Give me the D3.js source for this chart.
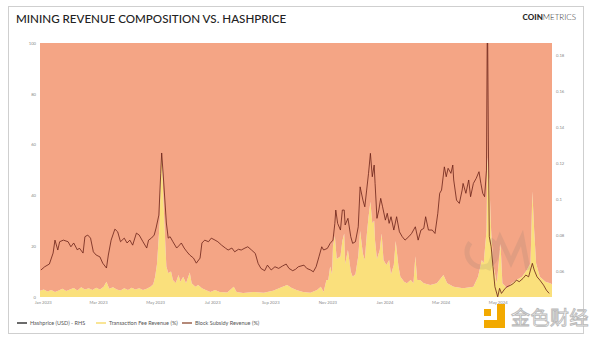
<!DOCTYPE html>
<html>
<head>
<meta charset="utf-8">
<script src="https://cdn.jsdelivr.net/npm/d3@7"></script>
<style>
  html, body { margin: 0; padding: 0; background: #fff; }
  svg { display: block; font-family: Lato, "Open Sans", sans-serif; }
</style>
</head>
<body>
<svg id="chart" width="600" height="339"></svg>
<script>
// ---- Transaction fee share of miner revenue (%), block subsidy is the remainder ----
const feeDates = [
  "2022-12-29","2023-01-02","2023-01-06","2023-01-10","2023-01-14","2023-01-18","2023-01-22","2023-01-26","2023-01-30",
  "2023-02-03","2023-02-07","2023-02-11","2023-02-15","2023-02-19","2023-02-23","2023-02-27",
  "2023-03-03","2023-03-07","2023-03-10","2023-03-13","2023-03-17","2023-03-21","2023-03-25","2023-03-29",
  "2023-04-02","2023-04-06","2023-04-10","2023-04-14","2023-04-18","2023-04-22","2023-04-26","2023-04-29",
  "2023-05-01","2023-05-03","2023-05-06","2023-05-07","2023-05-08","2023-05-10","2023-05-12","2023-05-13","2023-05-15",
  "2023-05-18","2023-05-20","2023-05-23","2023-05-26","2023-05-28","2023-05-31",
  "2023-06-03","2023-06-07","2023-06-09","2023-06-13","2023-06-16","2023-06-20","2023-06-24","2023-06-29",
  "2023-07-04","2023-07-09","2023-07-17","2023-07-24","2023-07-27",
  "2023-08-03","2023-08-14","2023-08-25",
  "2023-09-04","2023-09-11","2023-09-19","2023-09-24","2023-09-29",
  "2023-10-06","2023-10-14","2023-10-21","2023-10-25","2023-10-28","2023-10-31",
  "2023-11-02","2023-11-04","2023-11-06","2023-11-07","2023-11-09","2023-11-11","2023-11-15","2023-11-17","2023-11-19",
  "2023-11-20","2023-11-23","2023-11-26","2023-11-28",
  "2023-12-01","2023-12-04","2023-12-06","2023-12-09","2023-12-11","2023-12-13","2023-12-15","2023-12-17","2023-12-19",
  "2023-12-21","2023-12-22","2023-12-24","2023-12-27","2023-12-29","2023-12-31",
  "2024-01-03","2024-01-06","2024-01-08","2024-01-11","2024-01-13","2024-01-16","2024-01-18","2024-01-22","2024-01-25","2024-01-29",
  "2024-02-01","2024-02-03","2024-02-05","2024-02-08","2024-02-12","2024-02-19","2024-02-26",
  "2024-03-04","2024-03-08","2024-03-15","2024-03-25",
  "2024-04-05","2024-04-10","2024-04-14","2024-04-16","2024-04-19","2024-04-20","2024-04-22","2024-04-24","2024-04-26","2024-04-30",
  "2024-05-04","2024-05-06","2024-05-11","2024-05-16","2024-05-21","2024-05-27",
  "2024-06-01","2024-06-05","2024-06-06","2024-06-07","2024-06-09","2024-06-11","2024-06-15","2024-06-21","2024-06-26","2024-06-28"
];
const feePct = [
  2.5, 3.0, 2.2, 2.8, 2.0, 2.6, 3.2, 2.4, 3.0,
  3.5, 2.6, 3.8, 3.0, 3.4, 2.8, 3.6,
  3.0, 4.0, 6.0, 3.2, 3.8, 3.0, 2.6, 3.4,
  2.8, 3.6, 3.0, 3.4, 2.8, 3.2, 4.0, 5.0,
  8.0, 13, 30, 49, 57, 37, 20, 12, 9.4,
  10, 6.7, 5.5, 8.7, 6.0, 8.0,
  5.4, 9.6, 5.4, 4.0, 4.7, 3.4, 2.8, 2.0,
  2.8, 2.0, 1.8, 4.0, 2.0,
  1.6, 2.0, 1.7,
  2.5, 3.5, 4.7, 3.5, 2.8,
  2.0, 1.7, 2.8, 4.0, 2.0, 6.7,
  6.7, 12, 9, 20, 24, 15, 16, 22, 25,
  13, 18.5, 10, 8,
  9, 16, 26, 17, 14.6, 24, 31.6, 37.5, 29,
  30, 22, 15, 18.5, 25, 14.6,
  12.6, 14.6, 9, 12.6, 22, 12, 8, 6, 5.4, 6.7,
  5.4, 16, 6.7, 6.7, 5.4, 4.7, 5.4,
  8.7, 5.4, 4.0, 3.4,
  4.0, 8.0, 14.6, 13.3, 26, 55, 46, 26, 13.3, 5.4,
  21, 5.4, 3.4, 5.4, 6.7, 8.0,
  10.5, 13.3, 26, 41.5, 26, 13.3, 8, 6, 5.4, 5.0
];

// ---- Hashprice (USD per TH/s per day), right-hand axis ----
const hashDates = [
  "2022-12-30","2023-01-03","2023-01-08","2023-01-12","2023-01-14","2023-01-17","2023-01-19","2023-01-23","2023-01-28","2023-01-31",
  "2023-02-03","2023-02-07","2023-02-09","2023-02-13","2023-02-15","2023-02-18","2023-02-21","2023-02-24","2023-02-27",
  "2023-03-03","2023-03-06","2023-03-10","2023-03-12","2023-03-15","2023-03-19","2023-03-22","2023-03-25","2023-03-29",
  "2023-04-01","2023-04-04","2023-04-07","2023-04-11","2023-04-14","2023-04-18","2023-04-22","2023-04-24","2023-04-27","2023-04-30",
  "2023-05-02","2023-05-05","2023-05-07","2023-05-08","2023-05-10","2023-05-13","2023-05-15","2023-05-17","2023-05-20","2023-05-24","2023-05-27","2023-05-29",
  "2023-06-01","2023-06-04","2023-06-07","2023-06-11","2023-06-14","2023-06-18","2023-06-20","2023-06-23","2023-06-27","2023-06-30",
  "2023-07-04","2023-07-07","2023-07-11","2023-07-15","2023-07-18","2023-07-22","2023-07-25","2023-07-29",
  "2023-08-01","2023-08-05","2023-08-08","2023-08-12","2023-08-16","2023-08-19","2023-08-22","2023-08-26","2023-08-29",
  "2023-09-02","2023-09-06","2023-09-10","2023-09-14","2023-09-18","2023-09-21","2023-09-25","2023-09-28",
  "2023-10-01","2023-10-07","2023-10-10","2023-10-14","2023-10-17","2023-10-20","2023-10-23","2023-10-26","2023-10-28",
  "2023-11-01","2023-11-04","2023-11-07","2023-11-09","2023-11-10","2023-11-12","2023-11-15","2023-11-17","2023-11-19","2023-11-20","2023-11-23","2023-11-26","2023-11-28",
  "2023-12-01","2023-12-04","2023-12-06","2023-12-09","2023-12-11","2023-12-13","2023-12-15","2023-12-17","2023-12-19","2023-12-21","2023-12-22","2023-12-24","2023-12-26","2023-12-28","2023-12-30",
  "2024-01-02","2024-01-04","2024-01-06","2024-01-08","2024-01-11","2024-01-14","2024-01-17","2024-01-20","2024-01-23","2024-01-27","2024-01-30",
  "2024-02-03","2024-02-06","2024-02-09","2024-02-12","2024-02-14","2024-02-17","2024-02-21","2024-02-24","2024-02-27","2024-02-29",
  "2024-03-02","2024-03-05","2024-03-07","2024-03-09","2024-03-12","2024-03-14","2024-03-15","2024-03-18","2024-03-21","2024-03-24","2024-03-25","2024-03-28","2024-03-31",
  "2024-04-02","2024-04-05","2024-04-08","2024-04-11","2024-04-13","2024-04-15","2024-04-17","2024-04-19","2024-04-20","2024-04-21","2024-04-22","2024-04-24","2024-04-26","2024-04-28",
  "2024-05-01","2024-05-03","2024-05-05","2024-05-09","2024-05-11","2024-05-15","2024-05-18","2024-05-21","2024-05-24","2024-05-28","2024-05-31",
  "2024-06-03","2024-06-05","2024-06-07","2024-06-09","2024-06-12","2024-06-15","2024-06-19","2024-06-22","2024-06-25"
];
const hashprice = [
  0.0606,0.0624,0.0639,0.0700,0.0772,0.0717,0.0763,0.0772,0.0763,0.0735,
  0.0756,0.0717,0.0728,0.0700,0.0791,0.0800,0.0783,0.0707,0.0689,
  0.0679,0.0644,0.0617,0.0689,0.0772,0.0833,0.0818,0.0763,0.0783,
  0.0756,0.0772,0.0744,0.0811,0.0800,0.0763,0.0728,0.0772,0.0783,0.0800,
  0.0839,0.0911,0.1144,0.1256,0.1106,0.0867,0.0783,0.0791,0.0763,0.0728,0.0744,0.0756,
  0.0728,0.0707,0.0689,0.0672,0.0644,0.0672,0.0756,0.0772,0.0763,0.0783,
  0.0772,0.0763,0.0744,0.0728,0.0717,0.0728,0.0707,0.0721,
  0.0717,0.0728,0.0735,0.0717,0.0698,0.0643,0.0615,0.0602,0.0633,
  0.0606,0.0624,0.0615,0.0628,0.0639,0.0615,0.0602,0.0610,
  0.0624,0.0633,0.0615,0.0606,0.0596,0.0624,0.0679,0.0735,0.0717,
  0.0726,0.0754,0.0772,0.0865,0.0939,0.0865,0.0828,0.0939,0.0939,0.0856,0.0893,0.0791,0.0754,
  0.0763,0.0846,0.1068,0.0994,0.0957,0.1050,0.1143,0.1254,0.1124,0.1189,0.1087,0.0893,0.0939,0.1004,0.0957,
  0.0883,0.0921,0.0865,0.0902,0.0828,0.0902,0.0818,0.0791,0.0772,0.0791,0.0809,
  0.0846,0.0772,0.0828,0.0837,0.0902,0.0828,0.0828,0.0809,0.0921,0.1032,
  0.1050,0.1179,0.1124,0.1171,0.1143,0.1189,0.1106,0.0994,0.0976,0.1050,0.1087,0.1032,0.1106,
  0.1013,0.1087,0.1115,0.1152,0.1087,0.1032,0.1013,0.1161,0.2100,0.1328,0.0791,0.0735,0.0624,0.0513,
  0.0457,0.0504,0.0476,0.0504,0.0513,0.0522,0.0532,0.0550,0.0541,0.0559,0.0578,
  0.0568,0.0606,0.0643,0.0606,0.0568,0.0550,0.0522,0.0494,0.0476
];

// ---- Axis ticks ----
const xTickDates  = ["2023-01-01","2023-03-01","2023-05-01","2023-07-01","2023-09-01","2023-11-01","2024-01-01","2024-03-01","2024-05-01"];
const xTickLabels = ["Jan 2023","Mar 2023","May 2023","Jul 2023","Sep 2023","Nov 2023","Jan 2024","Mar 2024","May 2024"];
const leftTicks  = [0, 20, 40, 60, 80, 100];
const rightTicks = [0.06, 0.08, 0.1, 0.12, 0.14, 0.16, 0.18];

// ---- Series names ----
const seriesNames = ["Hashprice (USD) - RHS", "Transaction Fee Revenue (%)", "Block Subsidy Revenue (%)"];

const parse = d3.utcParse("%Y-%m-%d");
const svg = d3.select("#chart");

const plot = { left: 40, right: 552, top: 43, bottom: 297 };
const colors = { fee: "#FAE07C", subsidy: "#F4A585", line: "#6a2117",
                 legendLine: "#1b1b1b", legendFee: "#F6D75E", legendSub: "#8c4a30" };

const x = d3.scaleUtc()
  .domain([parse("2022-12-29"), parse("2024-06-28")])
  .range([plot.left, plot.right]);
const yL = d3.scaleLinear().domain([0, 100]).range([plot.bottom, plot.top]);
const yR = d3.scaleLinear().domain([0.0456, 0.1867]).range([plot.bottom, plot.top]);

// card frame
svg.append("rect").attr("x", 8.5).attr("y", 6.5).attr("width", 575).attr("height", 327)
  .attr("fill", "#fff").attr("stroke", "#cfcfcf").attr("stroke-width", 1);

// title + brand
svg.append("text").attr("x", 16).attr("y", 23)
  .attr("font-size", 11.6).attr("fill", "#222").attr("font-weight", 500)
  .text("MINING REVENUE COMPOSITION VS. HASHPRICE");
const brand = svg.append("text").attr("x", 576).attr("y", 20).attr("text-anchor", "end")
  .attr("font-size", 8).attr("fill", "#2a2a2a");
brand.append("tspan").attr("font-weight", 900).text("COIN");
brand.append("tspan").attr("font-weight", 300).text("METRICS");

// stacked revenue areas
const rows = feeDates.map((d, i) => ({ date: parse(d), fee: feePct[i], subsidy: 100 - feePct[i] }));
const stack = d3.stack().keys(["fee", "subsidy"])(rows);
const area = d3.area().x(d => x(d.data.date)).y0(d => yL(d[0])).y1(d => yL(d[1]));

svg.append("clipPath").attr("id", "plotClip").append("rect")
  .attr("x", plot.left).attr("y", plot.top)
  .attr("width", plot.right - plot.left).attr("height", plot.bottom - plot.top);

const g = svg.append("g").attr("clip-path", "url(#plotClip)");
g.selectAll("path.band").data(stack).join("path")
  .attr("class", "band")
  .attr("fill", d => d.key === "fee" ? colors.fee : colors.subsidy)
  .attr("d", area);

// faint brand mark inside the plot
const mark = g.append("g").attr("opacity", 0.13).attr("fill", "none").attr("stroke", "#6b6b6b").attr("stroke-width", 5);
mark.append("path").attr("d", d3.arc()({ innerRadius: 15, outerRadius: 15, startAngle: 0.6, endAngle: 2 * Math.PI - 0.9 }))
  .attr("transform", "translate(482,252)");
mark.append("path").attr("d", "M488,270 L500,238 L511,262 L522,238 L528,270");

// hashprice line
const hashRows = hashDates.map((d, i) => ({ date: parse(d), v: hashprice[i] }));
g.append("path").datum(hashRows)
  .attr("fill", "none").attr("stroke", colors.line).attr("stroke-width", 0.8)
  .attr("stroke-linejoin", "round")
  .attr("d", d3.line().x(d => x(d.date)).y(d => yR(d.v)));

// axes
const axisLeft = d3.axisLeft(yL).tickValues(leftTicks).tickSize(0).tickPadding(4);
const axisRight = d3.axisRight(yR).tickValues(rightTicks).tickSize(0).tickPadding(4).tickFormat(d3.format("~g"));
const axisBottom = d3.axisBottom(x).tickValues(xTickDates.map(parse)).tickSize(0).tickPadding(4)
  .tickFormat((d, i) => xTickLabels[i]);

function styleAxis(sel) {
  sel.select(".domain").remove();
  sel.selectAll("text").attr("font-size", 4.2).attr("fill", "#8a8a8a").attr("font-family", "Lato, sans-serif");
}
svg.append("g").attr("transform", `translate(${plot.left},0)`).call(axisLeft).call(styleAxis);
svg.append("g").attr("transform", `translate(${plot.right},0)`).call(axisRight).call(styleAxis);
svg.append("g").attr("transform", `translate(0,${plot.bottom})`).call(axisBottom).call(styleAxis);

// legend
const legendItems = [
  { name: seriesNames[0], color: colors.legendLine, x: 17 },
  { name: seriesNames[1], color: colors.legendFee, x: 96 },
  { name: seriesNames[2], color: colors.legendSub, x: 182 }
];
const lg = svg.append("g");
legendItems.forEach(it => {
  lg.append("line").attr("x1", it.x).attr("x2", it.x + 10).attr("y1", 323).attr("y2", 323)
    .attr("stroke", it.color).attr("stroke-width", 1.3);
  lg.append("text").attr("x", it.x + 13).attr("y", 325).attr("font-size", 5.5)
    .attr("fill", "#555").text(it.name);
});

// publisher stamp, lower right
const stamp = svg.append("g");
stamp.append("rect").attr("x", 484).attr("y", 309).attr("width", 7).attr("height", 7).attr("fill", "#F2A900");
stamp.append("path").attr("d", "M497,304 H505 V328 H484 V320 H497 Z").attr("fill", "#F2A900");
stamp.append("text").attr("x", 511).attr("y", 325)
  .attr("font-family", "'Noto Sans CJK SC', sans-serif").attr("font-size", 19)
  .attr("fill", "#fff").attr("stroke", "#b9b9b9").attr("stroke-width", 0.9)
  .attr("letter-spacing", 0.5).text("金色财经");
</script>
</body>
</html>
